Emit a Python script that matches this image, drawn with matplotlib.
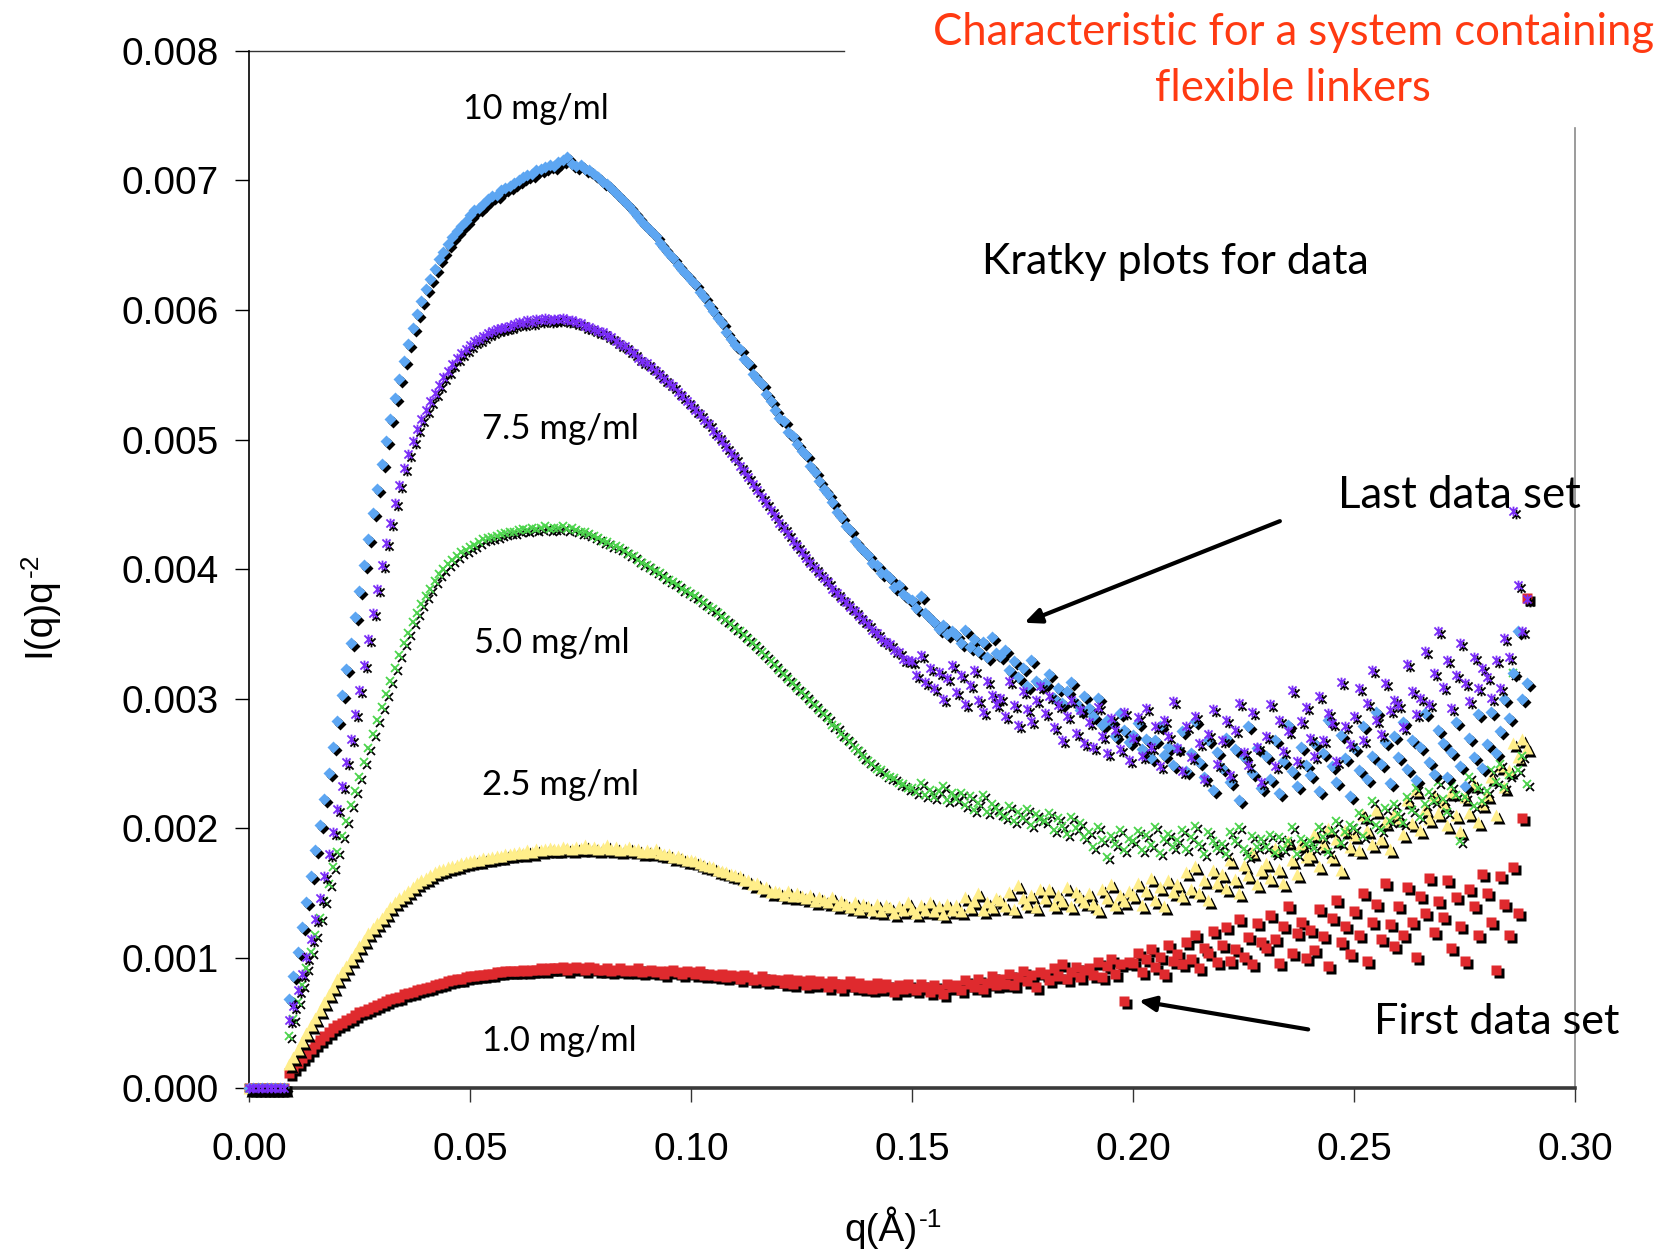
import numpy as np
import matplotlib
matplotlib.use("Agg")
import matplotlib.pyplot as plt
from matplotlib.path import Path
from matplotlib.transforms import offset_copy

# ---------------- data (intensities in units of 1e-5) ----------------
SCALE = 1e-5
q = np.arange(0, 290) / 1000.0   # q grid 0.000 ... 0.289

conc_10 = [
    0, 0, 0, 0, 0, 0, 0, 0, 0, 68,
    86, 105, 124, 143, 163, 183, 203, 223, 243, 263,
    283, 303, 323, 343, 363, 383, 403, 423, 443, 462,
    481, 499, 516, 532, 547, 561, 574, 586, 597, 607,
    616, 624, 632, 639, 645, 651, 656, 661, 665, 669,
    673, 677, 679, 682, 686, 688, 689, 693, 694, 696,
    698, 700, 703, 704, 705, 708, 709, 710, 712, 711,
    714, 716, 718, 713, 711, 712, 709, 708, 705, 703,
    699, 697, 694, 690, 687, 683, 680, 676, 672, 668,
    664, 661, 657, 652, 648, 643, 640, 635, 631, 627,
    623, 620, 614, 610, 604, 599, 594, 590, 583, 578,
    573, 570, 562, 559, 551, 547, 543, 535, 530, 523,
    517, 514, 506, 503, 497, 491, 488, 480, 475, 468,
    462, 458, 452, 444, 440, 433, 430, 422, 418, 415,
    411, 405, 403, 397, 396, 393, 386, 388, 381, 378,
    376, 370, 379, 366, 362, 359, 354, 357, 350, 352,
    349, 343, 353, 340, 346, 337, 344, 332, 348, 335,
    333, 338, 322, 329, 317, 324, 310, 330, 314, 311,
    312, 319, 301, 308, 297, 306, 313, 297, 291, 302,
    293, 287, 301, 280, 284, 283, 271, 289, 276, 267,
    272, 281, 261, 269, 254, 268, 279, 257, 263, 249,
    262, 275, 244, 258, 283, 251, 240, 268, 230, 259,
    247, 270, 236, 261, 222, 255, 279, 243, 262, 231,
    256, 238, 268, 227, 252, 280, 244, 233, 263, 249,
    241, 266, 229, 258, 284, 248, 236, 272, 254, 225,
    262, 245, 279, 238, 256, 290, 250, 267, 235, 271,
    255, 282, 246, 268, 237, 263, 289, 251, 242, 276,
    266, 240, 259, 282, 248, 233, 270, 255, 288, 247,
    265, 290, 258, 275, 300, 285, 320, 352, 300, 312,
]

conc_75 = [
    0, 0, 0, 0, 0, 0, 0, 0, 0, 52,
    63, 75, 88, 101, 115, 130, 146, 163, 180, 197,
    215, 233, 251, 269, 288, 307, 326, 346, 366, 385,
    403, 420, 436, 451, 465, 478, 489, 499, 508, 516,
    523, 530, 536, 542, 548, 553, 558, 563, 567, 570,
    573, 576, 578, 580, 582, 584, 585, 586, 587, 588,
    589, 591, 590, 592, 591, 593, 592, 594, 592, 593,
    593, 594, 592, 592, 591, 590, 588, 587, 585, 584,
    583, 581, 579, 576, 574, 572, 569, 567, 563, 561,
    559, 556, 553, 550, 547, 544, 541, 537, 534, 530,
    527, 523, 520, 515, 512, 507, 503, 499, 494, 490,
    486, 480, 476, 471, 466, 461, 456, 451, 446, 441,
    436, 432, 427, 422, 418, 413, 409, 405, 401, 397,
    393, 390, 385, 382, 378, 375, 371, 368, 364, 361,
    358, 353, 351, 346, 344, 342, 338, 336, 331, 330,
    329, 318, 334, 313, 324, 308, 321, 300, 316, 326,
    305, 318, 296, 311, 322, 299, 290, 314, 303, 296,
    301, 287, 314, 295, 280, 306, 292, 283, 299, 310,
    289, 302, 278, 295, 268, 287, 299, 274, 291, 266,
    282, 263, 294, 271, 258, 285, 276, 261, 290, 253,
    270, 286, 256, 293, 263, 279, 248, 284, 271, 298,
    262, 244, 279, 255, 287, 266, 238, 273, 292, 250,
    268, 284, 241, 276, 297, 259, 249, 290, 263, 236,
    271, 296, 248, 284, 260, 275, 307, 252, 283, 294,
    270, 256, 302, 268, 289, 281, 252, 313, 279, 265,
    287, 308, 268, 297, 322, 284, 273, 312, 291, 299,
    295, 278, 327, 306, 288, 301, 337, 296, 320, 352,
    309, 330, 293, 318, 343, 312, 298, 332, 308, 324,
    317, 301, 330, 308, 347, 332, 445, 388, 352, 377,
]

conc_50 = [
    0, 0, 0, 0, 0, 0, 0, 0, 0, 40,
    53, 66, 79, 92, 105, 118, 131, 144, 157, 170,
    182, 194, 206, 218, 229, 240, 251, 262, 273, 284,
    294, 304, 314, 324, 334, 343, 351, 359, 366, 373,
    379, 385, 391, 396, 400, 404, 407, 410, 413, 415,
    417, 419, 421, 423, 424, 425, 426, 427, 428, 429,
    429, 430, 431, 430, 432, 431, 432, 433, 431, 432,
    432, 433, 431, 432, 430, 429, 429, 427, 426, 424,
    422, 421, 419, 418, 416, 414, 412, 410, 407, 405,
    403, 401, 399, 397, 394, 392, 390, 388, 385, 383,
    381, 379, 376, 374, 371, 369, 366, 363, 361, 358,
    355, 352, 349, 346, 343, 340, 336, 333, 329, 326,
    322, 319, 315, 312, 308, 305, 302, 298, 295, 291,
    288, 285, 280, 278, 273, 270, 267, 262, 260, 255,
    252, 250, 246, 245, 241, 240, 239, 235, 234, 231,
    231, 228, 235, 226, 230, 224, 229, 233, 222, 227,
    223, 227, 218, 225, 214, 220, 226, 213, 219, 216,
    212, 209, 217, 206, 213, 208, 215, 203, 211, 207,
    206, 212, 199, 208, 202, 196, 209, 200, 204, 193,
    197, 186, 201, 191, 178, 194, 188, 199, 183, 192,
    190, 198, 183, 195, 187, 201, 181, 192, 196, 186,
    191, 199, 184, 193, 202, 188, 180, 197, 190, 185,
    188, 180, 197, 190, 201, 184, 179, 194, 186, 192,
    186, 195, 181, 193, 184, 190, 201, 180, 192, 188,
    190, 185, 201, 193, 182, 198, 206, 189, 197, 203,
    200, 212, 194, 207, 221, 203, 199, 216, 206, 219,
    211, 204, 224, 214, 231, 209, 219, 228, 221, 236,
    223, 213, 233, 226, 190, 224, 240, 217, 231, 221,
    229, 245, 236, 250, 232, 241, 320, 245, 256, 234,
]

conc_25 = [
    0, 0, 0, 0, 0, 0, 0, 0, 0, 18,
    24, 30, 36, 42, 48, 54, 60, 66, 72, 78,
    84, 89, 94, 99, 104, 109, 114, 119, 123, 127,
    131, 135, 139, 143, 146, 149, 152, 155, 158, 160,
    162, 164, 166, 168, 169, 170, 171, 172, 173, 174,
    175, 176, 176, 177, 177, 178, 179, 179, 180, 180,
    181, 182, 181, 183, 182, 184, 183, 184, 185, 184,
    184, 186, 185, 184, 186, 185, 187, 185, 186, 184,
    185, 187, 184, 186, 183, 184, 186, 183, 184, 182,
    183, 182, 184, 181, 180, 180, 178, 179, 177, 176,
    176, 175, 173, 172, 171, 170, 168, 167, 166, 165,
    164, 163, 160, 160, 157, 158, 154, 155, 151, 152,
    151, 149, 152, 148, 150, 148, 146, 149, 144, 147,
    145, 143, 147, 141, 144, 142, 139, 143, 138, 142,
    140, 137, 142, 136, 141, 139, 135, 140, 137, 143,
    138, 135, 141, 137, 143, 136, 140, 134, 142, 137,
    141, 136, 147, 139, 144, 150, 137, 143, 139, 146,
    145, 140, 151, 138, 156, 146, 142, 149, 139, 153,
    146, 153, 141, 149, 144, 155, 140, 151, 147, 143,
    150, 142, 138, 153, 146, 157, 141, 149, 144, 152,
    149, 158, 141, 152, 162, 145, 155, 140, 160, 151,
    157, 148, 166, 153, 171, 150, 160, 145, 168, 158,
    165, 154, 176, 161, 150, 172, 164, 182, 157, 168,
    173, 162, 185, 169, 158, 190, 176, 165, 188, 178,
    180, 196, 171, 188, 200, 178, 192, 168, 199, 186,
    195, 183, 210, 199, 188, 214, 192, 205, 184, 212,
    208, 196, 222, 204, 230, 199, 215, 207, 226, 212,
    220, 203, 228, 210, 198, 224, 212, 234, 205, 219,
    226, 240, 210, 248, 232, 245, 266, 255, 269, 262,
]

conc_1 = [
    0, 0, 0, 0, 0, 0, 0, 0, 0, 11,
    15, 19, 23, 26, 30, 34, 37, 40, 43, 46,
    48, 50, 52, 54, 56, 58, 59, 61, 62, 64,
    65, 67, 68, 69, 70, 72, 73, 74, 75, 76,
    77, 78, 79, 80, 81, 82, 83, 84, 84, 85,
    86, 86, 87, 87, 88, 88, 89, 89, 90, 90,
    90, 90, 91, 90, 91, 91, 92, 91, 92, 92,
    92, 93, 91, 92, 93, 92, 91, 93, 92, 91,
    91, 92, 90, 91, 92, 90, 91, 90, 92, 89,
    90, 91, 89, 90, 88, 90, 91, 89, 88, 90,
    89, 88, 90, 87, 88, 87, 86, 88, 85, 87,
    86, 84, 87, 85, 83, 84, 86, 82, 84, 83,
    83, 81, 84, 80, 83, 82, 79, 83, 80, 82,
    81, 78, 82, 80, 77, 80, 82, 78, 81, 77,
    79, 76, 81, 77, 80, 78, 74, 79, 76, 80,
    77, 75, 80, 78, 74, 79, 76, 72, 80, 78,
    79, 75, 83, 80, 78, 84, 76, 81, 86, 79,
    84, 80, 88, 79, 85, 90, 82, 87, 78, 89,
    88, 83, 92, 86, 95, 84, 89, 93, 85, 91,
    92, 87, 97, 85, 94, 99, 88, 95, 67, 97,
    96, 104, 89, 99, 107, 93, 101, 88, 110, 98,
    103, 95, 112, 99, 118, 92, 108, 104, 121, 97,
    110, 124, 98, 107, 130, 101, 116, 95, 127, 112,
    108, 133, 115, 96, 125, 140, 104, 119, 128, 100,
    122, 106, 138, 117, 94, 131, 145, 112, 125, 103,
    136, 118, 150, 98, 128, 142, 115, 158, 126, 109,
    140, 118, 155, 128, 101, 148, 135, 162, 120, 144,
    132, 160, 108, 147, 125, 98, 153, 140, 118, 165,
    150, 128, 91, 163, 142, 118, 170, 135, 208, 378,
]

concentration_labels = ["10 mg/ml", "7.5 mg/ml", "5.0 mg/ml", "2.5 mg/ml", "1.0 mg/ml"]
y_ticks = [0.000, 0.001, 0.002, 0.003, 0.004, 0.005, 0.006, 0.007, 0.008]
x_ticks = [0.00, 0.05, 0.10, 0.15, 0.20, 0.25, 0.30]

# ---------------- figure ----------------
W, H = 1661, 1256
fig = plt.figure(figsize=(W / 100, H / 100), dpi=100)

ax = fig.add_axes([235 / 1568, 1 - 1027 / 1186, (1487 - 235) / 1568, (1027 - 48) / 1186])
ax.set_xlim(0, 0.30)
ax.set_ylim(0, 0.008)

# asterisk marker (x + vertical bar), Excel style
star_path = Path([(-1, -1), (1, 1), (-1, 1), (1, -1), (0, -1.2), (0, 1.2)],
                 [Path.MOVETO, Path.LINETO, Path.MOVETO, Path.LINETO, Path.MOVETO, Path.LINETO])

shadow = offset_copy(ax.transData, fig=fig, x=3, y=-3, units='dots')

series = [
    (conc_1, 's', '#DF2A2E', 7.0, True, 0),
    (conc_25, '^', '#FFEE8A', 8.0, True, 0),
    (conc_50, 'x', '#4CD64C', 6.0, False, 1.3),
    (conc_10, 'D', '#5DA6F2', 6.2, True, 0),
    (conc_75, star_path, '#7A2DF7', 7.0, False, 1.3),
]

for vals, mk, col, ms, filled, mew in series:
    y = np.array(vals) * SCALE
    if filled:
        ax.plot(q, y, ls='none', marker=mk, ms=ms, mfc='black', mec='none',
                transform=shadow, clip_on=False, zorder=3)
        ax.plot(q, y, ls='none', marker=mk, ms=ms, mfc=col, mec='none',
                clip_on=False, zorder=3)
    else:
        ax.plot(q, y, ls='none', marker=mk, ms=ms, mfc='none', mec='black', mew=mew,
                transform=shadow, clip_on=False, zorder=3)
        ax.plot(q, y, ls='none', marker=mk, ms=ms, mfc='none', mec=col, mew=mew,
                clip_on=False, zorder=3)

# axes styling
for s in ['top', 'right']:
    ax.spines[s].set_visible(False)
ax.spines['left'].set_color('black')
ax.spines['left'].set_linewidth(1.2)
ax.spines['bottom'].set_color('#3a3a3a')
ax.spines['bottom'].set_linewidth(2.6)
ax.axhline(0.008, xmin=0, xmax=0.449, color='#333333', lw=1.0, clip_on=False)
ax.axvline(0.30, ymin=0, ymax=0.926, color='#8a8a8a', lw=1.2, clip_on=False)

ax.set_xticks(x_ticks)
ax.set_yticks(y_ticks)
ax.set_xticklabels([f"{v:.2f}" for v in x_ticks])
ax.set_yticklabels([f"{v:.3f}" for v in y_ticks])
ax.tick_params(axis='both', direction='out', length=10, width=1.0, colors='black',
               labelsize=28)
ax.tick_params(axis='x', pad=22, color='#333333')
ax.tick_params(axis='y', pad=12)
for lab in ax.get_xticklabels() + ax.get_yticklabels():
    lab.set_fontfamily('Liberation Sans')

renderer = fig.canvas.get_renderer()

# axis labels with hyphen superscripts (built from two text pieces)
AX_FS = 28
# x label: "q(Å)" + superscript "-1"
xl_main = fig.text(0, 0, 'q(Å)', fontsize=AX_FS, fontfamily='Liberation Sans',
                   ha='left', va='baseline')
xl_sup = fig.text(0, 0, '-1', fontsize=AX_FS * 0.68, fontfamily='Liberation Sans',
                  ha='left', va='baseline')
wm = xl_main.get_window_extent(renderer).width
ws = xl_sup.get_window_extent(renderer).width
cx_px = 843 / 1568 * W
base_px = (1 - 1172 / 1186) * H
left_px = cx_px - (wm + ws) / 2
xl_main.set_position((left_px / W, base_px / H))
xl_sup.set_position(((left_px + wm + 1) / W, (base_px + 14) / H))

# y label: rotated "I(q)q" + superscript "-2"
yl_main = fig.text(0, 0, 'I(q)q', fontsize=AX_FS, fontfamily='Liberation Sans',
                   rotation=90, ha='left', va='bottom', rotation_mode='anchor')
yl_sup = fig.text(0, 0, '-2', fontsize=AX_FS * 0.68, fontfamily='Liberation Sans',
                  rotation=90, ha='left', va='bottom', rotation_mode='anchor')
hm = yl_main.get_window_extent(renderer).height
hs = yl_sup.get_window_extent(renderer).height
cy_px = (1 - 572 / 1186) * H
bx_px = 54 / 1568 * W   # baseline x (text extends to the left)
bottom_px = cy_px - (hm + hs) / 2
yl_main.set_position((bx_px / W, bottom_px / H))
yl_sup.set_position(((bx_px - 14) / W, (bottom_px + hm + 1) / H))


def fit_text(cx, cy, s, width_disp, color='black'):
    t = fig.text(cx / 1568, 1 - cy / 1186, s, ha='center', va='center', fontsize=20,
                 color=color, fontfamily='Lato')
    bb = t.get_window_extent(renderer)
    target = width_disp * W / 1568
    t.set_fontsize(20 * target / bb.width)
    return t


label_pos = [(506, 103, 138), (529, 405, 148), (521, 607, 147), (529, 741, 148), (528, 983, 146)]
for lab, (cx, cy, wd) in zip(concentration_labels, label_pos):
    fit_text(cx, cy, lab, wd)

fit_text(1110, 247, 'Kratky plots for data', 367)
fit_text(1378, 468, 'Last data set', 229)
fit_text(1413, 965, 'First data set', 233)
fit_text(1221, 31, 'Characteristic for a system containing', 682, color='#FF3A12')
fit_text(1221, 84, 'flexible linkers', 262, color='#FF3A12')

# arrows
arrow_kw = dict(arrowstyle='-|>,head_length=1.0,head_width=0.45', color='black', lw=3,
                shrinkA=0, shrinkB=0)
ax.annotate('', xy=(0.1754, 0.003587), xytext=(0.2332, 0.004371),
            arrowprops=arrow_kw, annotation_clip=False)
ax.annotate('', xy=(0.2013, 0.00067), xytext=(0.2396, 0.000449),
            arrowprops=arrow_kw, annotation_clip=False)

fig.savefig('out.png', dpi=100)
